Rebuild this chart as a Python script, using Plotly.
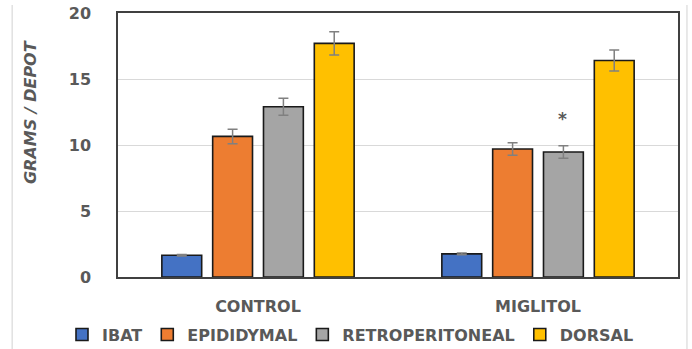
import plotly.graph_objects as go

# Depot weights (grams) per treatment group, with SEM
groups = ["CONTROL", "MIGLITOL"]
depots = ["IBAT", "EPIDIDYMAL", "RETROPERITONEAL", "DORSAL"]
ibat = [1.65, 1.75]
epididymal = [10.65, 9.7]
retroperitoneal = [12.9, 9.47]
dorsal = [17.7, 16.4]
ibat_err = [0.06, 0.06]
epididymal_err = [0.55, 0.47]
retroperitoneal_err = [0.65, 0.47]
dorsal_err = [0.88, 0.8]
y_ticks = [0, 5, 10, 15, 20]

colors = ["#4472C4", "#ED7D31", "#A5A5A5", "#FFC000"]
values = [ibat, epididymal, retroperitoneal, dorsal]
errors = [ibat_err, epididymal_err, retroperitoneal_err, dorsal_err]

FONT = "DejaVu Sans"
GREY = "#595959"

fig = go.Figure()
for name, vals, errs, col in zip(depots, values, errors, colors):
    fig.add_trace(go.Bar(
        name=name, x=groups, y=vals,
        marker=dict(color=col, line=dict(color="#1a1a1a", width=1.6)),
        error_y=dict(type="data", array=errs, visible=True,
                     color="#808080", thickness=1.5, width=5),
    ))

# significance mark above the Miglitol retroperitoneal bar
fig.add_annotation(x="MIGLITOL", y=12.0, xref="x", yref="y", text="*",
                   showarrow=False, xshift=24,
                   font=dict(family=FONT, size=17, color=GREY, weight="bold"))

# y-axis title
fig.add_annotation(x=-0.157, y=0.625, xref="paper", yref="paper",
                   xanchor="center", yanchor="middle",
                   text="<i>GRAMS / DEPOT</i>", textangle=-90,
                   showarrow=False,
                   font=dict(family=FONT, size=16, color=GREY, weight="bold"))

# thin grey frame lines at the left and right edges
for xp in (-0.189, 1.016):
    fig.add_shape(type="line", xref="paper", yref="paper",
                  x0=xp, x1=xp, y0=-0.28, y1=1.03,
                  line=dict(color="#d9d9d9", width=1.2))

fig.update_layout(
    width=692, height=349,
    margin=dict(l=118, r=14, t=13, b=72, autoexpand=False),
    paper_bgcolor="white", plot_bgcolor="white",
    barmode="group", bargap=0.274, bargroupgap=0.216,
    showlegend=True,
    legend=dict(orientation="h", x=-0.1, xanchor="left",
                y=-0.218, yanchor="middle",
                font=dict(family=FONT, size=16, color=GREY, weight="bold"),
                itemclick=False, traceorder="normal"),
    font=dict(family=FONT, color=GREY),
)
fig.update_xaxes(
    showline=True, linecolor="#404040", linewidth=1.5, mirror=True,
    ticks="", ticklabelstandoff=14,
    tickfont=dict(family=FONT, size=16, color=GREY, weight="bold"),
)
fig.update_yaxes(
    range=[0, 20], tickvals=y_ticks,
    showline=True, linecolor="#404040", linewidth=1.5, mirror=True,
    showgrid=True, gridcolor="#d9d9d9", gridwidth=1,
    zeroline=False, ticks="", ticklabelstandoff=22,
    tickfont=dict(family=FONT, size=16, color=GREY, weight="bold"),
)

fig.write_html("out.html")
